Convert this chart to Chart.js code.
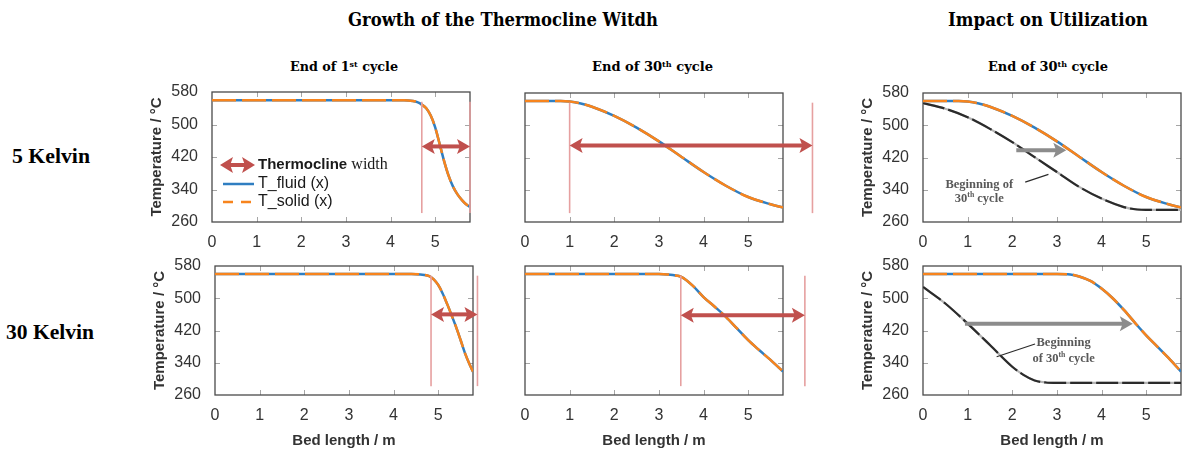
<!DOCTYPE html>
<html>
<head>
<meta charset="utf-8">
<script src="https://cdn.jsdelivr.net/npm/chart.js@4.4.1/dist/chart.umd.min.js"></script>
<style>
  body { margin: 0; background: #fff; width: 1184px; height: 452px; overflow: hidden; position: relative; }
  .t { position: absolute; white-space: nowrap; font-weight: bold; color: #000; line-height: 1; transform-origin: left center; }
  .t sup { font-size: 0.62em; vertical-align: 0; position: relative; top: -0.5em; }
  .serif { font-family: "DejaVu Serif", serif; }
  .times { font-family: "Liberation Serif", serif; }
</style>
</head>
<body>

<div class="t serif" data-w="310" style="left:348px; top:18.5px; font-size:19px">Growth of the Thermocline Witdh</div>
<div class="t serif" data-w="200" style="left:948px; top:18.5px; font-size:19px">Impact on Utilization</div>
<div class="t serif" data-w="108" style="left:290px; top:66px; font-size:13px">End of 1<sup>st</sup> cycle</div>
<div class="t serif" data-w="121" style="left:592px; top:66px; font-size:13px">End of 30<sup>th</sup> cycle</div>
<div class="t serif" data-w="120" style="left:988px; top:66px; font-size:13px">End of 30<sup>th</sup> cycle</div>
<div class="t times" data-w="78" style="left:12px; top:156px; font-size:21px">5 Kelvin</div>
<div class="t times" data-w="88" style="left:6px; top:332px; font-size:21px">30 Kelvin</div>

<script>
// ---- axes ----
const xTicks = [0, 1, 2, 3, 4, 5];
const yTicks = [260, 340, 420, 500, 580];
const xMax = 5.78;

// ---- 5 Kelvin, end of 1st cycle ----
const x5k1 = [0, 4.3, 4.5, 4.6, 4.7, 4.8, 4.9, 5.0, 5.1, 5.2, 5.3, 5.4, 5.5, 5.6, 5.7, 5.78];
const t5k1 = [560, 560, 558, 555, 549, 540, 522, 493, 452, 410, 374, 347, 328, 314, 303, 297];

// ---- 5 Kelvin, end of 30th cycle ----
const x5k30 = [0, 0.8, 1.0, 1.25, 1.5, 2.0, 2.5, 3.0, 3.5, 4.0, 4.5, 5.0, 5.5, 5.78];
const t5k30 = [560, 560, 559, 554, 546, 523, 494, 460, 422, 384, 350, 322, 304, 296];

// ---- 5 Kelvin, beginning of 30th cycle ----
const x5kBeg = [0, 0.5, 1.0, 1.5, 2.0, 2.5, 3.0, 3.5, 4.0, 4.5, 4.8, 5.0, 5.78];
const t5kBeg = [555, 541, 520, 491, 458, 421, 384, 347, 318, 297, 291, 290, 290];

// ---- 30 Kelvin, end of 1st cycle ----
const x30k1 = [0, 4.4, 4.6, 4.8, 4.9, 5.0, 5.1, 5.2, 5.3, 5.4, 5.5, 5.6, 5.7, 5.78];
const t30k1 = [560, 560, 559, 555, 547, 533, 512, 486, 458, 429, 397, 364, 337, 318];

// ---- 30 Kelvin, end of 30th cycle ----
const x30k30 = [0, 3.0, 3.2, 3.4, 3.5, 3.75, 4.0, 4.25, 4.5, 4.75, 5.0, 5.25, 5.5, 5.78];
const t30k30 = [560, 560, 559, 556, 553, 532, 503, 479, 454, 425, 396, 371, 347, 318];

// ---- 30 Kelvin, end of 30th cycle (utilization panel) ----
const x30kU = [0, 3.0, 3.3, 3.5, 3.75, 4.0, 4.25, 4.5, 4.75, 5.0, 5.25, 5.5, 5.78];
const t30kU = [560, 560, 559, 554, 543, 524, 500, 471, 439, 408, 380, 352, 318];

// ---- 30 Kelvin, beginning of 30th cycle ----
const x30kBeg = [0, 0.5, 1.0, 1.5, 2.0, 2.25, 2.5, 2.75, 3.0, 5.78];
const t30kBeg = [528, 487, 437, 384, 330, 310, 296, 291, 290, 290];

// thermocline width markers (bed length from / to, temperature level)
const twFrom  = [4.70, 1.00, 4.84, 3.49];
const twTo    = [5.78, 6.44, 5.88, 6.27];
const twLevel = [446, 450, 460, 458];
const twTop = 556, twBottom = 282;

// utilization shift arrows
const shFrom  = [2.09, 0.94];
const shTo    = [3.21, 4.70];
const shLevel = [438, 437];

const BLUE = '#2f7ec1', ORANGE = '#f7841d', RED = '#c0504d', PINK = '#e6a0a0';
const GRAY = '#8c8c8c', DARK = '#2b2b2b', NOTE = '#595959';

Chart.defaults.font.family = '"Liberation Sans", Arial, sans-serif';

function pts(xs, ts) { return xs.map((x, i) => ({ x: x, y: ts[i] })); }
const common = { pointRadius: 0, fill: false, cubicInterpolationMode: 'monotone', borderWidth: 2.5 };
function pair(xs, ts) {
  return [
    Object.assign({ label: 'T_solid (x)', data: pts(xs, ts), borderColor: ORANGE, borderDash: [24, 6] }, common),
    Object.assign({ label: 'T_fluid (x)', data: pts(xs, ts), borderColor: BLUE }, common)
  ];
}
function beginning(xs, ts) {
  return [
    Object.assign({ label: 'Beginning', data: pts(xs, ts), borderColor: DARK, borderDash: [22, 4] }, common, { borderWidth: 2.2 }),
    Object.assign({ label: 'Beginning', data: pts(xs, ts), borderColor: '#b4b4b4' }, common, { borderWidth: 2.2 })
  ];
}

function head(ctx, tip, y, dir, len, half) {
  ctx.beginPath();
  ctx.moveTo(tip, y);
  ctx.lineTo(tip - dir * len, y - half);
  ctx.lineTo(tip - dir * len * 0.78, y);
  ctx.lineTo(tip - dir * len, y + half);
  ctx.closePath();
  ctx.fill();
}
function arrow(ctx, xa, xb, y, color, both, half) {
  ctx.save();
  ctx.strokeStyle = color; ctx.fillStyle = color; ctx.lineWidth = 4;
  ctx.beginPath();
  ctx.moveTo(both ? xa + 9 : xa, y);
  ctx.lineTo(xb - 9, y);
  ctx.stroke();
  if (both) head(ctx, xa, y, -1, 13, half);
  head(ctx, xb, y, 1, 13, half);
  ctx.restore();
}
function rich(ctx, parts, cx, cy, size, fam) {
  let w = 0;
  parts.forEach(p => {
    ctx.font = 'bold ' + (p.sup ? size * 0.62 : size) + 'px ' + fam;
    p.w = ctx.measureText(p.t).width; w += p.w;
  });
  let x = cx - w / 2;
  ctx.textAlign = 'left'; ctx.textBaseline = 'middle';
  parts.forEach(p => {
    ctx.font = 'bold ' + (p.sup ? size * 0.62 : size) + 'px ' + fam;
    ctx.fillText(p.t, x, p.sup ? cy - size * 0.3 : cy);
    x += p.w;
  });
}

const framePlugin = {
  id: 'frame',
  beforeDatasetsDraw(chart) {
    const { ctx, chartArea: a, scales: { x, y } } = chart;
    ctx.save();
    ctx.strokeStyle = '#a6a6a6'; ctx.lineWidth = 1;
    ctx.beginPath();
    xTicks.slice(1).forEach(v => {
      const px = Math.round(x.getPixelForValue(v)) + 0.5;
      ctx.moveTo(px, a.top); ctx.lineTo(px, a.top + 5);
      ctx.moveTo(px, a.bottom); ctx.lineTo(px, a.bottom - 5);
    });
    yTicks.slice(1, -1).forEach(v => {
      const py = Math.round(y.getPixelForValue(v)) + 0.5;
      ctx.moveTo(a.left, py); ctx.lineTo(a.left + 5, py);
      ctx.moveTo(a.right, py); ctx.lineTo(a.right - 5, py);
    });
    ctx.stroke();
    ctx.strokeStyle = '#4a4a4a'; ctx.lineWidth = 1.3;
    ctx.strokeRect(a.left, a.top, a.width, a.height);
    ctx.restore();
  }
};

const marksPlugin = {
  id: 'marks',
  afterDatasetsDraw(chart, args, opts) {
    const { ctx, chartArea: a, scales: { x, y } } = chart;
    const s = opts.spec;
    if (s.tw !== undefined) {
      const i = s.tw;
      ctx.save();
      ctx.strokeStyle = PINK; ctx.lineWidth = 1.6;
      [twFrom[i], twTo[i]].forEach(v => {
        const px = x.getPixelForValue(v);
        ctx.beginPath(); ctx.moveTo(px, y.getPixelForValue(twTop)); ctx.lineTo(px, y.getPixelForValue(twBottom)); ctx.stroke();
      });
      ctx.restore();
      arrow(ctx, x.getPixelForValue(twFrom[i]), x.getPixelForValue(twTo[i]), y.getPixelForValue(twLevel[i]), RED, true, 7.5);
    }
    if (s.shift !== undefined) {
      const i = s.shift;
      arrow(ctx, x.getPixelForValue(shFrom[i]), x.getPixelForValue(shTo[i]), y.getPixelForValue(shLevel[i]), GRAY, false, 7.5);
    }
    if (s.note) {
      const n = s.note;
      ctx.save();
      ctx.strokeStyle = DARK; ctx.lineWidth = 1.2;
      ctx.beginPath();
      ctx.moveTo(x.getPixelForValue(n.lead[0]), y.getPixelForValue(n.lead[1]));
      ctx.lineTo(x.getPixelForValue(n.lead[2]), y.getPixelForValue(n.lead[3]));
      ctx.stroke();
      ctx.fillStyle = NOTE;
      n.lines.forEach((parts, k) => rich(ctx, parts, x.getPixelForValue(n.at[0]), y.getPixelForValue(n.at[1 + k]), 12.5, '"Liberation Serif", serif'));
      ctx.restore();
    }
    if (s.legend) {
      const lx = a.left + 8, tx = a.left + 46;
      const r1 = a.top + 73, r2 = a.top + 92, r3 = a.top + 110;
      arrow(ctx, lx, lx + 35, r1, RED, true, 8);
      ctx.save();
      ctx.lineWidth = 2.5;
      ctx.strokeStyle = BLUE;
      ctx.beginPath(); ctx.moveTo(lx + 3, r2); ctx.lineTo(lx + 34, r2); ctx.stroke();
      ctx.strokeStyle = ORANGE; ctx.setLineDash([10, 8]);
      ctx.beginPath(); ctx.moveTo(lx + 3, r3); ctx.lineTo(lx + 34, r3); ctx.stroke();
      ctx.setLineDash([]);
      ctx.fillStyle = '#1a1a1a'; ctx.textBaseline = 'middle'; ctx.textAlign = 'left';
      ctx.font = 'bold 15px "Liberation Sans", sans-serif';
      ctx.fillText('Thermocline', tx, r1);
      const w = ctx.measureText('Thermocline ').width;
      ctx.font = '16px "Liberation Serif", serif';
      ctx.fillText('width', tx + w, r1);
      ctx.font = '16px "Liberation Sans", sans-serif';
      ctx.fillText('T_fluid (x)', tx, r2);
      ctx.fillText('T_solid (x)', tx, r3);
      ctx.restore();
    }
  }
};

const specs = [
  { x0: 212, y0: 92, x1: 470, y1: 222, bottom: 262, right: 45, yLabels: true, xTitle: false,
    series: pair(x5k1, t5k1), tw: 0, legend: true },
  { x0: 525, y0: 93, x1: 783, y1: 222, bottom: 262, right: 45, yLabels: false, xTitle: false,
    series: pair(x5k30, t5k30), tw: 1 },
  { x0: 923, y0: 93, x1: 1181, y1: 222, bottom: 262, right: 3, yLabels: true, xTitle: false,
    series: pair(x5k30, t5k30).concat(beginning(x5kBeg, t5kBeg)), shift: 0,
    note: { lead: [2.29, 359, 2.81, 378], at: [1.26, 353.5, 317],
            lines: [[{ t: 'Beginning of' }], [{ t: '30' }, { t: 'th', sup: true }, { t: ' cycle' }]] } },
  { x0: 215, y0: 266, x1: 473, y1: 395, bottom: 450, right: 45, yLabels: true, xTitle: true,
    series: pair(x30k1, t30k1), tw: 2 },
  { x0: 525, y0: 266, x1: 783, y1: 395, bottom: 450, right: 45, yLabels: false, xTitle: true,
    series: pair(x30k30, t30k30), tw: 3 },
  { x0: 923, y0: 266, x1: 1181, y1: 395, bottom: 450, right: 3, yLabels: true, xTitle: true,
    series: pair(x30kU, t30kU).concat(beginning(x30kBeg, t30kBeg)), shift: 1,
    note: { lead: [1.65, 355, 2.51, 386.5], at: [3.15, 390, 349],
            lines: [[{ t: 'Beginning' }], [{ t: 'of 30' }, { t: 'th', sup: true }, { t: ' cycle' }]] } }
];

specs.forEach(s => {
  const L = s.x0 - 90, T = s.y0 - 26;
  const W = 90 + (s.x1 - s.x0) + s.right, H = s.bottom - T;
  const hx = s.bottom - s.y1;
  const cv = document.createElement('canvas');
  cv.width = W; cv.height = H;
  cv.style.cssText = 'position:absolute;left:' + L + 'px;top:' + T + 'px;width:' + W + 'px;height:' + H + 'px';
  document.body.appendChild(cv);
  new Chart(cv, {
    type: 'line',
    data: { datasets: s.series },
    options: {
      responsive: false,
      animation: false,
      layout: { padding: { left: 26, right: s.right, top: 26, bottom: 0 } },
      plugins: { legend: { display: false }, tooltip: { enabled: false }, marks: { spec: s } },
      scales: {
        x: {
          type: 'linear', min: 0, max: xMax,
          afterBuildTicks: sc => { sc.ticks = xTicks.map(v => ({ value: v })); },
          afterFit: sc => { sc.height = hx; },
          grid: { display: false, drawTicks: false }, border: { display: false },
          ticks: { padding: 11, font: { size: 16 }, color: '#333', autoSkip: false, maxRotation: 0 },
          title: { display: s.xTitle, text: 'Bed length / m', font: { size: 15, weight: 'bold' }, color: '#333', padding: 0 }
        },
        y: {
          type: 'linear', min: 260, max: 580,
          afterBuildTicks: sc => { sc.ticks = yTicks.map(v => ({ value: v })); },
          afterFit: sc => { sc.width = 64; },
          grid: { display: false, drawTicks: false }, border: { display: false },
          ticks: { display: s.yLabels, padding: 14, font: { size: 16 }, color: '#333' },
          title: { display: s.yLabels, text: 'Temperature / °C', font: { size: 15, weight: 'bold' }, color: '#333', padding: 0 }
        }
      }
    },
    plugins: [framePlugin, marksPlugin]
  });
});

// fit the heading texts to their widths in the figure
document.querySelectorAll('.t').forEach(el => {
  const w = el.getBoundingClientRect().width;
  el.style.transform = 'translateY(-50%) scaleX(' + (parseFloat(el.dataset.w) / w) + ')';
});
</script>
</body>
</html>
